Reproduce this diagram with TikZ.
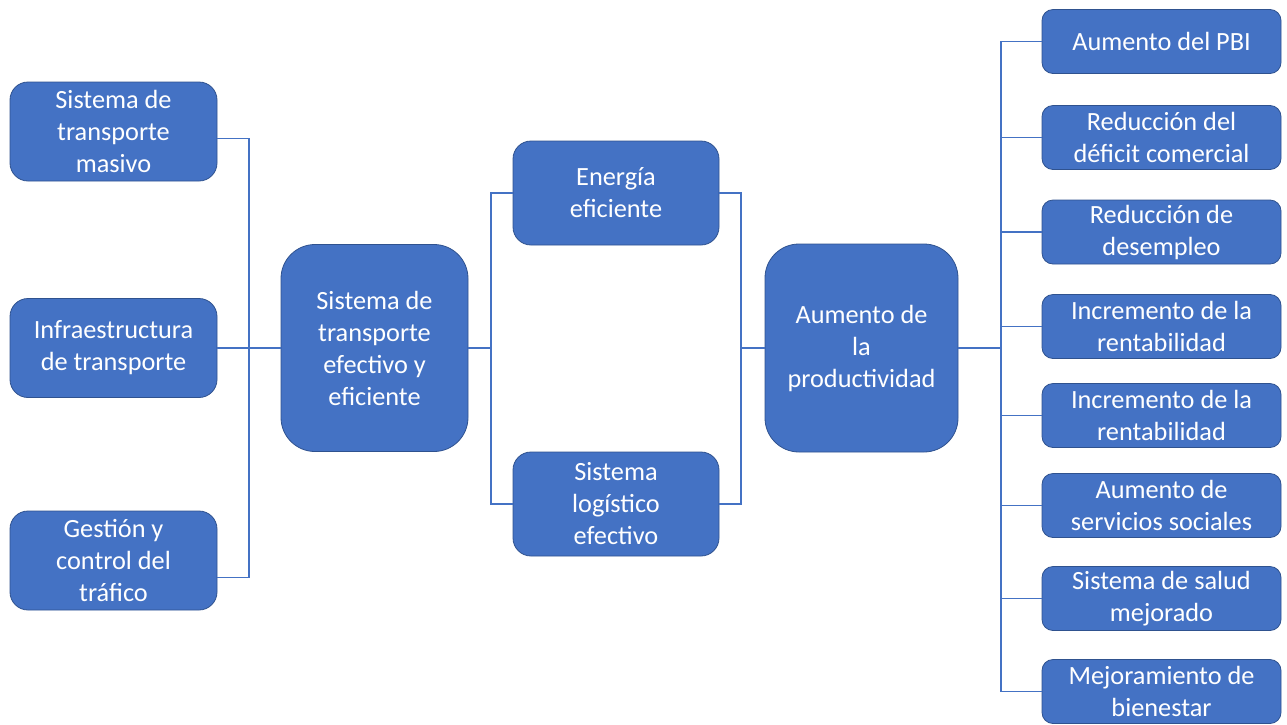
\documentclass[tikz,border=0pt]{standalone}
\usepackage{fontspec}
\setmainfont{Carlito}
\usepackage{tikz}
\usetikzlibrary{arrows,shapes}
\definecolor{boxblue}{RGB}{68,114,196}
\definecolor{boxline}{RGB}{47,82,143}
\tikzstyle{box}=[rectangle,fill=boxblue,draw=boxline,line width=0.8pt,text=white,align=center,inner sep=0pt,font=\fontsize{26.3}{32}\selectfont]
\tikzstyle{leftbox}=[box,minimum width=207pt,minimum height=99pt,rounded corners=18pt]
\tikzstyle{midbox}=[box,minimum width=206pt,minimum height=104pt,rounded corners=18pt]
\tikzstyle{bigbox}=[box,rounded corners=34pt]
\tikzstyle{rightbox}=[box,minimum width=239pt,minimum height=64pt,rounded corners=11pt]
\tikzstyle{edge} = [draw,line width=1.4pt,boxblue]

\begin{document}
\begin{tikzpicture}[x=1pt, y=-1pt]

    \useasboundingbox (0,0) rectangle (1287,724);

    \foreach \y/\name/\text in {131.5/stm/{Sistema de\\transporte\\masivo}, 348/inf/{Infraestructura\\de transporte}, 560.5/ges/{Gestión y\\control del\\tráfico}}
        \node[leftbox] (\name) at (113.5, \y) {\text};

    \node[bigbox, minimum width=187pt, minimum height=207pt] (ste) at (374.5, 348) {Sistema de\\transporte\\efectivo y\\eficiente};

    \node[midbox] (ene) at (616, 193) {Energía\\eficiente};
    \node[midbox] (log) at (616, 504) {Sistema\\logístico\\efectivo};

    \node[bigbox, minimum width=193pt, minimum height=208pt] (apr) at (861.5, 348) {Aumento de\\la\\productividad};

    \foreach \y/\name/\text in {41.5/r1/{Aumento del PBI}, 137.5/r2/{Reducción del\\déficit comercial}, 232/r3/{Reducción de\\desempleo}, 326.5/r4/{Incremento de la\\rentabilidad}, 415.5/r5/{Incremento de la\\rentabilidad}, 505.5/r6/{Aumento de\\servicios sociales}, 598.5/r7/{Sistema de salud\\mejorado}, 691.5/r8/{Mejoramiento de\\bienestar}}
        \node[rightbox] (\name) at (1161.5, \y) {\text};

    \coordinate (lbus) at (249, 348);
    \coordinate (mbus) at (491, 348);
    \coordinate (rbus) at (741, 348);
    \coordinate (fbus) at (1001, 348);

    % causes
    \path[edge] ([yshift=-7pt]stm.east) -| (lbus) |- ([yshift=-17pt]ges.east);
    \path[edge] (inf.east) -- (ste.west);

    \path[edge] (ste.east) -- (mbus);
    \path[edge] (ene.west) -| (mbus) |- (log.west);

    \path[edge] (ene.east) -| (rbus) |- (log.east);
    \path[edge] (rbus) -- (apr.west);

    % effects
    \path[edge] (apr.east) -- (fbus);
    \path[edge] (r1.west) -| (fbus) |- (r8.west);
    \foreach \name in {r2,r3,r4,r5,r6,r7}
        \path[edge] (\name.west) -- (\name.west -| fbus);

\end{tikzpicture}
\end{document}
